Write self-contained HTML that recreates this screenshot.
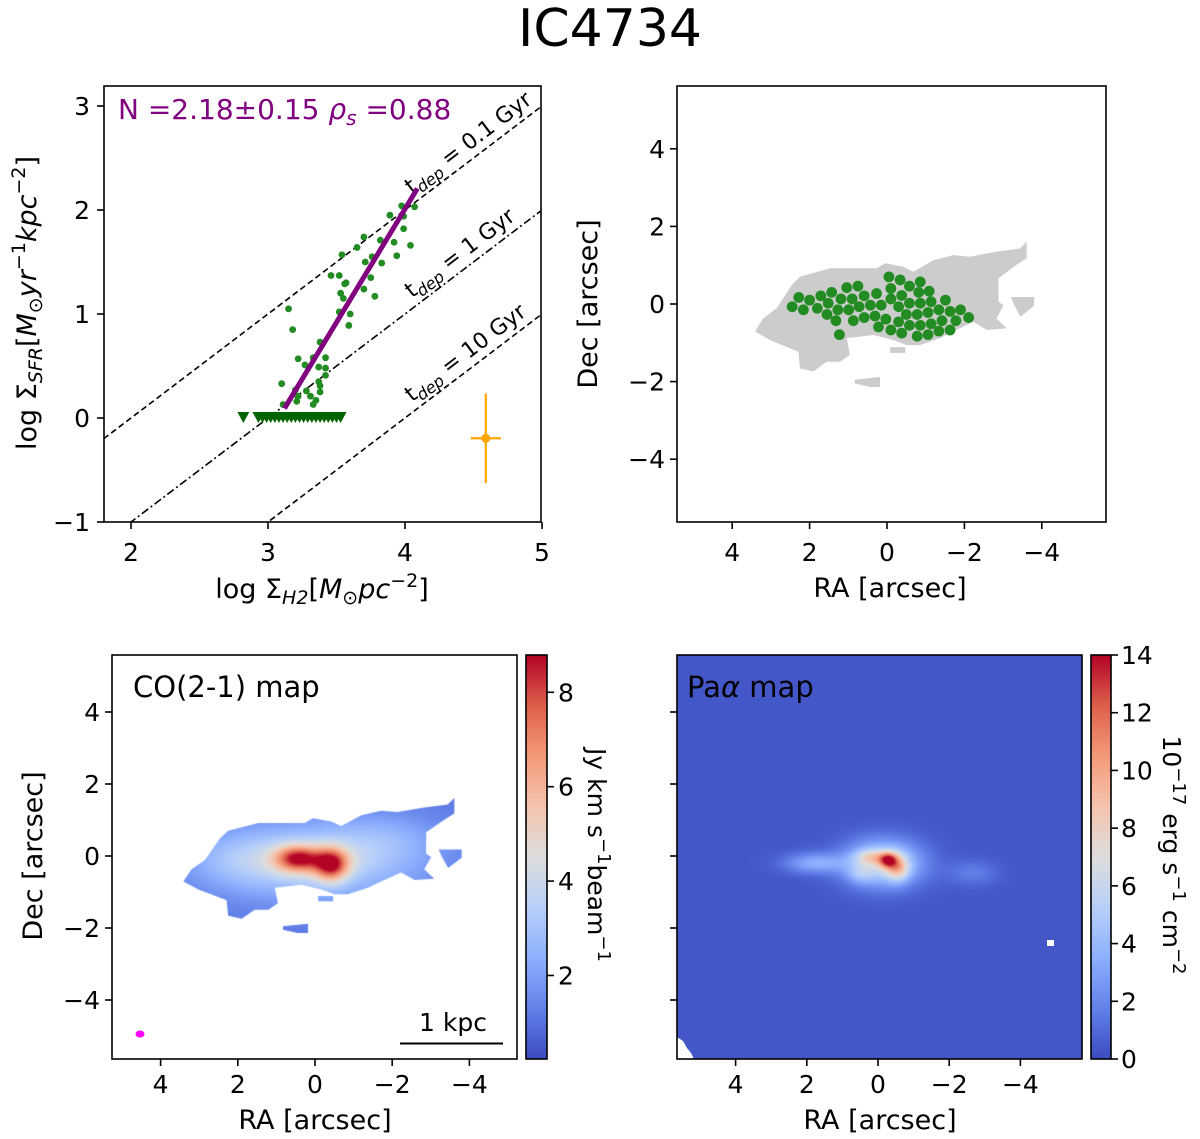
<!DOCTYPE html>
<html><head><meta charset="utf-8">
<style>
body{margin:0;background:#fff;}
#wrap{position:relative;width:1200px;height:1139px;overflow:hidden;background:#fff;font-family:"DejaVu Sans","Liberation Sans",sans-serif;}
canvas{position:absolute;}
svg{position:absolute;left:0;top:0;}
text{font-family:"DejaVu Sans","Liberation Sans",sans-serif;}
</style></head>
<body>
<div id="wrap">
<canvas id="coCanvas" width="405" height="404" style="left:112px;top:655px"></canvas>
<canvas id="paCanvas" width="405" height="404" style="left:677px;top:655px"></canvas>
<canvas id="coBar" width="21" height="404" style="left:526px;top:655px"></canvas>
<canvas id="paBar" width="20" height="404" style="left:1091px;top:655px"></canvas>
<svg id="svg" width="1200" height="1139" xmlns="http://www.w3.org/2000/svg">
<defs>
<clipPath id="clipKS"><rect x="104" y="86" width="437" height="436"/></clipPath>
</defs>
<text x="610" y="46" font-size="52" text-anchor="middle">IC4734</text>
<g id="ks"></g>
<g id="mask"></g>
<g id="co"></g>
<g id="pa"></g>
</svg>
</div>
<script>
// ---------- KS panel data ----------
const ksX = [3.976,4.07,3.89,3.99,3.99,3.70,3.82,3.92,4.04,3.65,3.54,3.94,3.76,3.71,3.83,3.46,3.52,3.57,3.75,3.56,3.70,3.53,3.55,3.78,3.15,3.52,3.60,3.59,3.18,3.38,3.22,3.33,3.42,3.27,3.37,3.42,3.42,3.10,3.37,3.38,3.20,3.28,3.38,3.22,3.31,3.35,3.21,3.11,3.33];
const ksY = [2.04,2.03,1.95,1.94,1.82,1.74,1.71,1.69,1.66,1.64,1.57,1.56,1.55,1.50,1.49,1.37,1.37,1.30,1.35,1.29,1.24,1.20,1.15,1.17,1.05,1.02,1.00,0.89,0.85,0.73,0.57,0.58,0.58,0.51,0.49,0.48,0.41,0.33,0.35,0.31,0.27,0.26,0.25,0.21,0.21,0.17,0.16,0.13,0.13];
const limX = [2.82,2.93,2.96,2.99,3.02,3.05,3.08,3.11,3.14,3.17,3.20,3.23,3.26,3.29,3.32,3.35,3.38,3.41,3.44,3.47,3.50,3.53];
const limY = 0.0;
const fitSlope = 2.18, fitIntercept = -6.71, fitRange = [3.12, 4.09];
const tdepOffsets = [-2, -3, -4];
const tdepLabels = ["0.1 Gyr","1 Gyr","10 Gyr"];
const errPoint = [4.59, -0.195], errX = 0.11, errY = 0.43;
const ksXTicks = [2,3,4,5], ksYTicks = [-1,0,1,2,3];

// ---------- Map data (arcsec) ----------
const dotRA = [-0.05,-0.34,-0.86,1.04,0.75,-0.58,2.28,1.71,1.43,0.59,0.27,-0.10,-0.38,-0.82,-1.09,2.00,1.19,0.90,-0.10,-1.51,2.45,1.52,0.43,0.15,-0.30,-0.58,-0.86,-1.14,2.16,1.80,1.27,0.99,0.72,-0.50,-0.78,-1.06,-1.34,-1.63,-1.90,1.55,0.31,0.03,-0.30,-0.58,-0.86,-1.14,-1.42,-1.78,-2.11,1.32,0.87,0.59,0.22,-0.10,-0.38,-0.78,-1.06,-1.34,-1.63,1.23];
const dotDec = [0.70,0.62,0.57,0.42,0.46,0.46,0.17,0.21,0.30,0.21,0.27,0.40,0.22,0.30,0.33,0.10,0.13,0.13,0.13,0.10,-0.07,0.02,-0.03,-0.03,-0.07,0.02,0.02,0.06,-0.15,-0.11,-0.15,-0.15,-0.07,-0.27,-0.27,-0.22,-0.15,-0.19,-0.15,-0.27,-0.31,-0.39,-0.46,-0.55,-0.55,-0.51,-0.43,-0.43,-0.35,-0.43,-0.43,-0.35,-0.59,-0.67,-0.75,-0.83,-0.79,-0.70,-0.67,-0.79];
const maskRA = [3.41,3.20,2.85,2.46,2.25,1.47,0.27,0.05,-0.42,-0.68,-1.20,-1.71,-2.14,-2.83,-3.44,-3.61,-3.61,-3.35,-2.88,-2.88,-3.01,-2.83,-3.09,-2.58,-2.23,-1.71,-1.37,-0.85,-0.51,-0.16,0.35,1.04,0.96,1.21,1.56,1.90,2.25,2.29,2.51,3.02];
const maskDec = [-0.71,-0.37,-0.11,0.49,0.70,0.92,0.92,1.05,0.96,0.83,1.13,1.26,1.22,1.35,1.43,1.61,1.18,1.01,0.66,0.06,-0.03,-0.37,-0.63,-0.67,-0.46,-0.71,-0.88,-1.06,-1.06,-0.93,-0.80,-0.88,-1.31,-1.49,-1.49,-1.74,-1.66,-1.23,-1.14,-0.93];
const islandRA = [[-3.2,-3.8,-3.8,-3.45,-3.3],[-0.08,-0.47,-0.47,-0.08],[0.83,0.18,0.18,0.45,0.83]];
const islandDec = [[0.18,0.18,-0.05,-0.33,-0.05],[-1.11,-1.11,-1.26,-1.26],[-1.95,-1.88,-2.14,-2.14,-2.05]];
// CO blobs: ra, dec, amplitude, sigmaRA, sigmaDec
const coBase = 1.1;
const coBlobRA = [0.0, 1.8, 0.47, -0.43, -0.05, -1.8];
const coBlobDec = [-0.15, -0.1, -0.06, -0.25, -0.15, 0.5];
const coBlobAmp = [2.4, 1.0, 4.2, 4.6, 1.6, 0.8];
const coBlobSx = [1.9, 1.0, 0.4, 0.3, 0.7, 1.0];
const coBlobSy = [0.75, 0.5, 0.25, 0.33, 0.3, 0.5];
const coRange = [0.23, 8.79];
// Pa-alpha blobs
const paBase = 0.35;
const paBlobRA = [-0.15, -0.28, -0.56, 0.22, 1.77, -2.67, 0.5];
const paBlobDec = [-0.2, -0.11, -0.33, -0.03, -0.2, -0.47, -0.5];
const paBlobAmp = [5.8, 7.5, 5.0, 3.5, 3.0, 1.3, 1.8];
const paBlobSx = [0.75, 0.18, 0.22, 0.3, 0.6, 0.5, 0.25];
const paBlobSy = [0.45, 0.15, 0.25, 0.15, 0.2, 0.25, 0.18];
const paRange = [0, 14];
const coCbTicks = [2,4,6,8];
const paCbTicks = [0,2,4,6,8,10,12,14];
const raTicks = [4,2,0,-2,-4];
const decTicks = [4,2,0,-2,-4];

const NS = "http://www.w3.org/2000/svg";
function mk(parent, tag, attrs, name, txt){
  const e = document.createElementNS(NS, tag);
  for (const k in attrs) e.setAttribute(k, attrs[k]);
  
  
  if (txt !== undefined) e.textContent = txt;
  parent.appendChild(e);
  return e;
}
function fmt(v){ return v < 0 ? "\u2212" + Math.abs(v) : String(v); }

// ---------- KS axes ----------
const ksx = v => 131 + (v - 2) * 137;
const ksy = v => 418 - v * 104;
const ks = document.getElementById('ks');
const ksClip = mk(ks, 'g', {'clip-path':'url(#clipKS)'}, 'ks-plot-area');
tdepOffsets.forEach((off, i) => {
  const dash = i === 1 ? '8,3,2,3' : '6,3.5';
  mk(ksClip, 'line', {x1:ksx(1.8), y1:ksy(1.8+off), x2:ksx(5), y2:ksy(5+off), stroke:'#000', 'stroke-width':1.6, 'stroke-dasharray':dash}, 'tdep-line-' + i);
  const lx = 4.05, ly = lx + off + 0.1;
  const t = mk(ksClip, 'text', {x:ksx(lx), y:ksy(ly), 'font-size':22, transform:`rotate(-37.2 ${ksx(lx)} ${ksy(ly)})`}, 'tdep-label-' + i);
  const a = document.createElementNS(NS,'tspan'); a.textContent='t'; t.appendChild(a);
  const b = document.createElementNS(NS,'tspan'); b.setAttribute('font-size','16'); b.setAttribute('dy','5'); b.setAttribute('font-style','italic'); b.textContent='dep'; t.appendChild(b);
  const c = document.createElementNS(NS,'tspan'); c.setAttribute('dy','-5'); c.textContent=' = ' + tdepLabels[i]; t.appendChild(c);
});
for (let i = 0; i < ksX.length; i++) {
  mk(ksClip, 'circle', {cx:ksx(ksX[i]), cy:ksy(ksY[i]), r:3.4, fill:'#228b22'}, 'ks-point');
}
for (let i = 0; i < limX.length; i++) {
  const cx = ksx(limX[i]), cy = ksy(limY);
  mk(ksClip, 'path', {d:`M${cx-6},${cy-6} L${cx+6},${cy-6} L${cx},${cy+5} Z`, fill:'#006400'}, 'ks-upper-limit');
}
mk(ksClip, 'line', {x1:ksx(fitRange[0]), y1:ksy(fitSlope*fitRange[0]+fitIntercept), x2:ksx(fitRange[1]), y2:ksy(fitSlope*fitRange[1]+fitIntercept), stroke:'#800080', 'stroke-width':5}, 'fit-line');
mk(ksClip, 'line', {x1:ksx(errPoint[0]-errX), y1:ksy(errPoint[1]), x2:ksx(errPoint[0]+errX), y2:ksy(errPoint[1]), stroke:'orange', 'stroke-width':2.2}, 'error-bar-x');
mk(ksClip, 'line', {x1:ksx(errPoint[0]), y1:ksy(errPoint[1]-errY), x2:ksx(errPoint[0]), y2:ksy(errPoint[1]+errY), stroke:'orange', 'stroke-width':2.2}, 'error-bar-y');
mk(ksClip, 'circle', {cx:ksx(errPoint[0]), cy:ksy(errPoint[1]), r:4.5, fill:'orange'}, 'error-bar-point');
{
  const t = mk(ks, 'text', {x:118, y:119, 'font-size':28, fill:'#800080'}, 'fit-annotation');
  t.innerHTML = 'N =2.18±0.15 <tspan font-style="italic">ρ</tspan><tspan font-size="20" dy="6" font-style="italic">s</tspan><tspan dy="-6"> =0.88</tspan>';
}
mk(ks, 'rect', {x:104, y:86, width:437, height:436, fill:'none', stroke:'#000', 'stroke-width':1.6}, 'ks-frame');
ksXTicks.forEach(v => {
  mk(ks, 'line', {x1:ksx(v), y1:522, x2:ksx(v), y2:529, stroke:'#000', 'stroke-width':1.6}, 'x-tick');
  mk(ks, 'text', {x:ksx(v), y:561, 'font-size':25, 'text-anchor':'middle'}, 'x-tick-label', fmt(v));
});
ksYTicks.forEach(v => {
  mk(ks, 'line', {x1:97, y1:ksy(v), x2:104, y2:ksy(v), stroke:'#000', 'stroke-width':1.6}, 'y-tick');
  mk(ks, 'text', {x:90, y:ksy(v)+9, 'font-size':25, 'text-anchor':'end'}, 'y-tick-label', fmt(v));
});
{
  const t = mk(ks, 'text', {x:322, y:598, 'font-size':27, 'text-anchor':'middle'}, 'x-axis-title');
  t.innerHTML = 'log Σ<tspan font-size="19" dy="6" font-style="italic">H2</tspan><tspan dy="-6">[</tspan><tspan font-style="italic">M</tspan><tspan font-size="19" dy="6">⊙</tspan><tspan dy="-6" font-style="italic">pc</tspan><tspan font-size="19" dy="-11">−2</tspan><tspan dy="11">]</tspan>';
  const y = mk(ks, 'text', {x:36, y:303, 'font-size':27, 'text-anchor':'middle', transform:'rotate(-90 36 303)'}, 'y-axis-title');
  y.innerHTML = 'log Σ<tspan font-size="19" dy="6" font-style="italic">SFR</tspan><tspan dy="-6">[</tspan><tspan font-style="italic">M</tspan><tspan font-size="19" dy="6">⊙</tspan><tspan dy="-6" font-style="italic">yr</tspan><tspan font-size="19" dy="-11">−1</tspan><tspan dy="11" font-style="italic">kpc</tspan><tspan font-size="19" dy="-11">−2</tspan><tspan dy="11">]</tspan>';
}

// ---------- Mask panel ----------
const mx = v => 887 - v * 38.7;
const my = v => 304 - v * 38.8;
const mg = document.getElementById('mask');
function polyPts(ras, decs, fx, fy){ return ras.map((r,i)=>fx(r).toFixed(1)+','+fy(decs[i]).toFixed(1)).join(' '); }
mk(mg, 'polygon', {points:polyPts(maskRA, maskDec, mx, my), fill:'#cccccc'}, 'mask-region');
islandRA.forEach((ir, k) => mk(mg, 'polygon', {points:polyPts(ir, islandDec[k], mx, my), fill:'#cccccc'}, 'mask-island'));
for (let i = 0; i < dotRA.length; i++) {
  mk(mg, 'circle', {cx:mx(dotRA[i]), cy:my(dotDec[i]), r:5.4, fill:'#228b22'}, 'aperture-dot');
}
mk(mg, 'rect', {x:677, y:86, width:429, height:436, fill:'none', stroke:'#000', 'stroke-width':1.6}, 'mask-frame');
raTicks.forEach(v => {
  mk(mg, 'line', {x1:mx(v), y1:522, x2:mx(v), y2:529, stroke:'#000', 'stroke-width':1.6}, 'x-tick');
  mk(mg, 'text', {x:mx(v), y:561, 'font-size':25, 'text-anchor':'middle'}, 'x-tick-label', fmt(v));
});
decTicks.forEach(v => {
  mk(mg, 'line', {x1:670, y1:my(v), x2:677, y2:my(v), stroke:'#000', 'stroke-width':1.6}, 'y-tick');
  mk(mg, 'text', {x:665, y:my(v)+9, 'font-size':25, 'text-anchor':'end'}, 'y-tick-label', fmt(v));
});
mk(mg, 'text', {x:890, y:597, 'font-size':27, 'text-anchor':'middle'}, 'x-axis-title', 'RA [arcsec]');
mk(mg, 'text', {x:597, y:304, 'font-size':27, 'text-anchor':'middle', transform:'rotate(-90 597 304)'}, 'y-axis-title', 'Dec [arcsec]');

// ---------- colormap ----------
const cw = [[59,76,192],[98,130,234],[141,176,254],[184,208,249],[221,221,221],[245,196,173],[244,154,123],[222,96,77],[180,4,38]];
function cmap(t){
  t = Math.max(0, Math.min(1, t)); const f = t*8; const i = Math.min(7, Math.floor(f)); const u = f - i;
  return [0,1,2].map(k => Math.round(cw[i][k] + (cw[i+1][k]-cw[i][k])*u));
}
function field(ra, dec, base, R, D, A, SX, SY){
  let v = base;
  for (let i = 0; i < R.length; i++) {
    const dx = (ra-R[i])/SX[i], dy = (dec-D[i])/SY[i];
    v += A[i]*Math.exp(-0.5*(dx*dx+dy*dy));
  }
  return v;
}
function drawMap(canvasId, left, top, fx, fy, base, R, D, A, SX, SY, range, maskFn){
  const c = document.getElementById(canvasId), ctx = c.getContext('2d');
  const W = c.width, H = c.height;
  const off = document.createElement('canvas'); off.width = W; off.height = H;
  const octx = off.getContext('2d'); const img = octx.createImageData(W, H);
  for (let y = 0; y < H; y++) for (let x = 0; x < W; x++) {
    const ra = fx(left + x + 0.5), dec = fy(top + y + 0.5);
    const v = field(ra, dec, base, R, D, A, SX, SY);
    const col = cmap((v - range[0])/(range[1]-range[0]));
    const p = (y*W + x)*4; img.data[p]=col[0]; img.data[p+1]=col[1]; img.data[p+2]=col[2]; img.data[p+3]=255;
  }
  octx.putImageData(img, 0, 0);
  ctx.save();
  if (maskFn) { ctx.beginPath(); maskFn(ctx); ctx.clip(); }
  ctx.drawImage(off, 0, 0);
  ctx.restore();
}
function drawBar(id, range){
  const c = document.getElementById(id), ctx = c.getContext('2d');
  for (let y = 0; y < c.height; y++) {
    const col = cmap(1 - y/(c.height-1));
    ctx.fillStyle = `rgb(${col[0]},${col[1]},${col[2]})`; ctx.fillRect(0, y, c.width, 1);
  }
}

// ---------- CO panel ----------
const cx_ = v => 315 - v * 38.6;
const cy_ = v => 856 - v * 36;
const cxInv = p => (315 - p)/38.6, cyInv = p => (856 - p)/36;
drawMap('coCanvas', 112, 655, cxInv, cyInv, coBase, coBlobRA, coBlobDec, coBlobAmp, coBlobSx, coBlobSy, coRange, ctx => {
  const addPoly = (R, D) => { R.forEach((r,i)=>{ const X = cx_(r)-112, Y = cy_(D[i])-655; if(i===0) ctx.moveTo(X,Y); else ctx.lineTo(X,Y); }); ctx.closePath(); };
  addPoly(maskRA, maskDec); islandRA.forEach((ir,k)=>addPoly(ir, islandDec[k]));
});
drawBar('coBar', coRange);
const co = document.getElementById('co');
mk(co, 'rect', {x:112, y:655, width:405, height:404, fill:'none', stroke:'#000', 'stroke-width':1.6}, 'co-frame');
mk(co, 'text', {x:133, y:697, 'font-size':29}, 'co-map-label', 'CO(2-1) map');
mk(co, 'ellipse', {cx:140, cy:1034, rx:4.5, ry:3.5, fill:'#ff00ff'}, 'beam-ellipse');
mk(co, 'line', {x1:400, y1:1043.5, x2:503, y2:1043.5, stroke:'#000', 'stroke-width':2}, 'scale-bar');
mk(co, 'text', {x:453, y:1031, 'font-size':25, 'text-anchor':'middle'}, 'scale-bar-label', '1 kpc');
raTicks.forEach(v => {
  mk(co, 'line', {x1:cx_(v), y1:1059, x2:cx_(v), y2:1066, stroke:'#000', 'stroke-width':1.6}, 'x-tick');
  mk(co, 'text', {x:cx_(v), y:1093, 'font-size':25, 'text-anchor':'middle'}, 'x-tick-label', fmt(v));
});
decTicks.forEach(v => {
  mk(co, 'line', {x1:105, y1:cy_(v), x2:112, y2:cy_(v), stroke:'#000', 'stroke-width':1.6}, 'y-tick');
  mk(co, 'text', {x:100, y:cy_(v)+9, 'font-size':25, 'text-anchor':'end'}, 'y-tick-label', fmt(v));
});
mk(co, 'text', {x:315, y:1129, 'font-size':27, 'text-anchor':'middle'}, 'x-axis-title', 'RA [arcsec]');
mk(co, 'text', {x:42, y:856, 'font-size':27, 'text-anchor':'middle', transform:'rotate(-90 42 856)'}, 'y-axis-title', 'Dec [arcsec]');
const cbCo = v => 1059 - (v - coRange[0])/(coRange[1]-coRange[0]) * 404;
mk(co, 'rect', {x:526, y:655, width:21, height:404, fill:'none', stroke:'#000', 'stroke-width':1.6}, 'co-colorbar-frame');
coCbTicks.forEach(v => {
  mk(co, 'line', {x1:547, y1:cbCo(v), x2:554, y2:cbCo(v), stroke:'#000', 'stroke-width':1.6}, 'colorbar-tick');
  mk(co, 'text', {x:558, y:cbCo(v)+9, 'font-size':25}, 'colorbar-tick-label', fmt(v));
});
{
  const t = mk(co, 'text', {x:588, y:855, 'font-size':25, 'text-anchor':'middle', transform:'rotate(90 588 855)'}, 'co-colorbar-title');
  t.innerHTML = 'Jy km s<tspan font-size="18" dy="-10">−1</tspan><tspan dy="10">beam</tspan><tspan font-size="18" dy="-10">−1</tspan>';
}

// ---------- Pa-alpha panel ----------
const px_ = v => 878 - v * 35.6;
const py_ = v => 856 - v * 36;
drawMap('paCanvas', 677, 655, p => (878 - p)/35.6, p => (856 - p)/36, paBase, paBlobRA, paBlobDec, paBlobAmp, paBlobSx, paBlobSy, paRange, null);
drawBar('paBar', paRange);
const pa = document.getElementById('pa');
mk(pa, 'polygon', {points:'677,1037 683,1041 687,1048 691,1053 694,1059 677,1059', fill:'#fff'}, 'pa-blank-corner');
mk(pa, 'rect', {x:1047, y:940, width:7, height:6, fill:'#fff'}, 'pa-blank-pixel');
mk(pa, 'rect', {x:677, y:655, width:405, height:404, fill:'none', stroke:'#000', 'stroke-width':1.6}, 'pa-frame');
{
  const t = mk(pa, 'text', {x:687, y:697, 'font-size':29}, 'pa-map-label');
  t.innerHTML = 'Pa<tspan font-style="italic">α</tspan> map';
}
raTicks.forEach(v => {
  mk(pa, 'line', {x1:px_(v), y1:1059, x2:px_(v), y2:1066, stroke:'#000', 'stroke-width':1.6}, 'x-tick');
  mk(pa, 'text', {x:px_(v), y:1093, 'font-size':25, 'text-anchor':'middle'}, 'x-tick-label', fmt(v));
});
decTicks.forEach(v => {
  mk(pa, 'line', {x1:670, y1:py_(v), x2:677, y2:py_(v), stroke:'#000', 'stroke-width':1.6}, 'y-tick');
});
mk(pa, 'text', {x:880, y:1129, 'font-size':27, 'text-anchor':'middle'}, 'x-axis-title', 'RA [arcsec]');
const cbPa = v => 1059 - (v - paRange[0])/(paRange[1]-paRange[0]) * 404;
mk(pa, 'rect', {x:1091, y:655, width:20, height:404, fill:'none', stroke:'#000', 'stroke-width':1.6}, 'pa-colorbar-frame');
paCbTicks.forEach(v => {
  mk(pa, 'line', {x1:1111, y1:cbPa(v), x2:1118, y2:cbPa(v), stroke:'#000', 'stroke-width':1.6}, 'colorbar-tick');
  mk(pa, 'text', {x:1121, y:cbPa(v)+9, 'font-size':25}, 'colorbar-tick-label', fmt(v));
});
{
  const t = mk(pa, 'text', {x:1163, y:855, 'font-size':25, 'text-anchor':'middle', transform:'rotate(90 1163 855)'}, 'pa-colorbar-title');
  t.innerHTML = '10<tspan font-size="18" dy="-10">−17</tspan><tspan dy="10"> erg s</tspan><tspan font-size="18" dy="-10">−1</tspan><tspan dy="10"> cm</tspan><tspan font-size="18" dy="-10">−2</tspan>';
}
</script>
</body></html>
